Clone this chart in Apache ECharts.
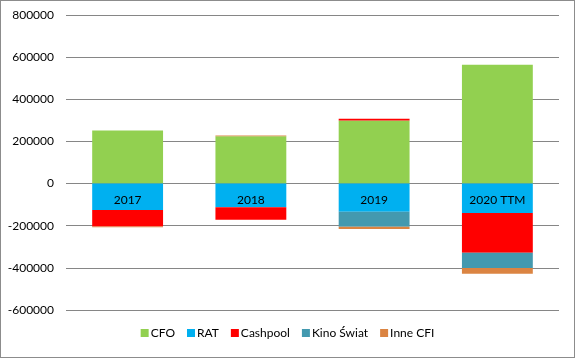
<!DOCTYPE html>
<html><head><meta charset="utf-8">
<script src="https://cdn.jsdelivr.net/npm/echarts@6/dist/echarts.min.js"></script>
<style>html,body{margin:0;padding:0;background:#fff}#c{width:575px;height:358px;box-sizing:border-box;border:1px solid #8c8c8c}</style>
</head><body><div id="c"></div>
<script>
const categories = ['2017', '2018', '2019', '2020 TTM'];
const cfo = [252000, 225000, 299000, 564000];
const rat = [-125000, -112000, -134000, -140000];
const cashpool = [-79000, -60000, 9000, -188000];
const kinoSwiat = [0, 0, -71000, -72500];
const inneCfi = [-3000, 3000, -11000, -27000];
const yTicks = { min: -600000, max: 800000, interval: 200000 };

const seriesDefs = [
  ['CFO', cfo, '#92D050'],
  ['RAT', rat, '#00B0F0'],
  ['Cashpool', cashpool, '#FF0000'],
  ['Kino Świat', kinoSwiat, '#4399AF'],
  ['Inne CFI', inneCfi, '#DB8442']
];
const font = 'Lato, "Open Sans", sans-serif';
const gridTop = 14, gridBottom = 47, H = 358;
const plotH = H - gridTop - gridBottom;
const zeroOffset = -plotH * (0 - yTicks.min) / (yTicks.max - yTicks.min);
const chart = echarts.init(document.getElementById('c'));
chart.setOption({
  animation: false,
  textStyle: { fontFamily: font },
  grid: { left: 65, right: 15, top: gridTop, bottom: gridBottom, containLabel: false },
  legend: {
    bottom: 13, left: 'center', itemWidth: 8, itemHeight: 8, itemGap: 12,
    icon: 'rect',
    textStyle: { fontFamily: font, fontSize: 12, color: '#000', padding: [0, 0, 0, -3] },
    data: seriesDefs.map(s => s[0])
  },
  xAxis: {
    type: 'category', data: categories, z: 10, position: 'bottom', offset: zeroOffset,
    axisLine: { show: false, onZero: false }, axisTick: { show: false },
    axisLabel: { color: '#000', fontSize: 12, margin: 11, fontFamily: font }
  },
  yAxis: {
    type: 'value', min: yTicks.min, max: yTicks.max, interval: yTicks.interval,
    axisLine: { show: false }, axisTick: { show: false },
    axisLabel: { color: '#000', fontSize: 12, margin: 12, fontFamily: font, formatter: v => String(v) },
    splitLine: { lineStyle: { color: '#868686', width: 1 } }
  },
  series: seriesDefs.map(s => ({
    name: s[0], type: 'bar', stack: 'total', data: s[1],
    barWidth: '57.5%', itemStyle: { color: s[2] }
  }))
});
</script></body></html>
